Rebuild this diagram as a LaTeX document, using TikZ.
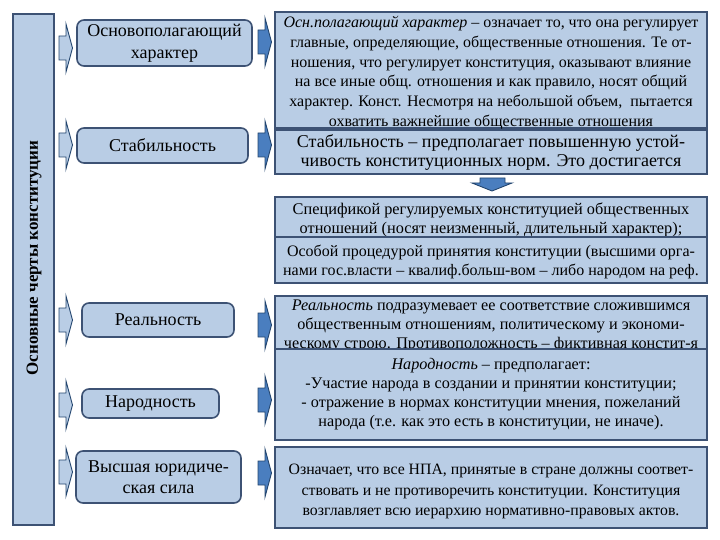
\documentclass[tikz,border=0pt]{standalone}
\usepackage{fontspec}
\setmainfont{Liberation Serif}
\definecolor{boxfill}{HTML}{B9CDE5}
\definecolor{boxline}{HTML}{3D5274}
\definecolor{arrdark}{HTML}{4A7EBF}
\definecolor{arrline}{HTML}{24466F}
\definecolor{arrlight}{HTML}{B9CDE5}
\begin{document}
\begin{tikzpicture}[x=1pt,y=-1pt,
  lbox/.style={draw=boxline, line width=1.6pt, fill=boxfill, rounded corners=7pt, inner sep=0pt},
  rbox/.style={draw=boxline, line width=1.6pt, fill=boxfill, inner sep=0pt},
  txt/.style={align=center, inner sep=0pt},
  ltext/.style={txt, font=\fontsize{18}{22}\selectfont},
  larrow/.style={fill=arrlight, draw=arrline, line width=0.9pt},
  rarrow/.style={fill=arrdark, draw=arrline, line width=0.9pt},
  blockarr/.pic={\path[pic actions] (-7,-12) -- (0,-12) -- (0,-24) -- (6.5,0) -- (0,24) -- (0,12) -- (-7,12) -- cycle;}
]
\useasboundingbox (0,0) rectangle (720,540);

% title bar
\node[rbox, minimum width=41pt, minimum height=511pt] (bar) at (33.5,269.5) {};
\node[txt, rotate=90, font=\fontsize{17}{20}\selectfont\bfseries] (bart) at (34,258) {Основные черты конституции};

% left boxes
\node[lbox, minimum width=175pt, minimum height=46pt] (l1) at (164.5,43) {};
\node[ltext] (l1t) at (l1.center) {Основополагающий\\характер};
\node[lbox, minimum width=171pt, minimum height=35pt] (l2) at (162.5,145.5) {};
\node[ltext] (l2t) at (l2.center) {Стабильность};
\node[lbox, minimum width=152pt, minimum height=34pt] (l3) at (158,320) {};
\node[ltext] (l3t) at (l3.center) {Реальность};
\node[lbox, minimum width=137pt, minimum height=29pt] (l4) at (150.5,403.5) {};
\node[ltext] (l4t) at (l4.center) {Народность};
\node[lbox, minimum width=165pt, minimum height=52pt] (l5) at (158.5,477) {};
\node[txt, font=\fontsize{18}{20.5}\selectfont] (l5t) at (l5.center) {Высшая юридиче-\\ская сила};

% left arrows
\pic[larrow] at (66,48) {blockarr};
\pic[larrow] at (66,145) {blockarr};
\pic[larrow] at (66,320) {blockarr};
\pic[larrow] at (66,405) {blockarr};
\pic[larrow] at (66,472) {blockarr};

% right arrows
\pic[rarrow] at (265,42) {blockarr};
\pic[rarrow] at (265,145) {blockarr};
\pic[rarrow] at (265,325) {blockarr};
\pic[rarrow] at (265,400) {blockarr};
\pic[rarrow] at (265,473) {blockarr};

% right boxes
\node[rbox, minimum width=432pt, minimum height=116pt] (r1) at (491,70) {};
\node[txt, font=\fontsize{16}{19.8}\selectfont] (r1t) at (491,73) {\textit{Осн.полагающий характер} – означает то, что она регулирует\\
главные, определяющие, общественные отношения. Те от-\\
ношения, что регулирует конституция, оказывают влияние\\
на все иные общ. отношения и как правило, носят общий\\
характер. Конст. Несмотря на небольшой объем,~ пытается\\
охватить важнейшие общественные отношения};

\node[rbox, minimum width=432pt, minimum height=44pt] (r2) at (491,152) {};
\node[txt, font=\fontsize{18}{19}\selectfont] (r2t) at (491,153) {Стабильность – предполагает повышенную устой-\\
чивость конституционных норм. Это достигается};

\path[rarrow] (480,178) -- (505,178) -- (505,183) -- (512,183) -- (492,191) -- (472,183) -- (480,183) -- cycle;

\node[rbox, minimum width=432pt, minimum height=40pt] (r3) at (491,217) {};
\node[txt, font=\fontsize{16.3}{18.5}\selectfont] (r3t) at (491,220) {Спецификой регулируемых конституцией общественных\\
отношений (носят неизменный, длительный характер);};
\node[rbox, minimum width=432pt, minimum height=46pt] (r4) at (491,260) {};
\node[txt, font=\fontsize{16}{19}\selectfont] (r4t) at (491,262) {Особой процедурой принятия конституции (высшими орга-\\
нами гос.власти – квалиф.больш-вом – либо народом на реф.};

\node[rbox, minimum width=432pt, minimum height=53pt] (r5) at (491,322.5) {};
\node[txt, font=\fontsize{16.2}{19}\selectfont] (r5t) at (491,326) {\textit{Реальность} подразумевает ее соответствие сложившимся\\
общественным отношениям, политическому и экономи-\\
ческому строю. Противоположность – фиктивная констит-я};
\node[rbox, minimum width=432pt, minimum height=91pt] (r6) at (491,394.5) {};
\node[txt, font=\fontsize{16.2}{19}\selectfont] (r6t) at (491,394) {\textit{Народность} – предполагает:\\
-Участие народа в создании и принятии конституции;\\
- отражение в нормах конституции мнения, пожеланий\\
народа (т.е. как это есть в конституции, не иначе).};

\node[rbox, minimum width=432pt, minimum height=81pt] (r7) at (491,487.5) {};
\node[txt, font=\fontsize{15.8}{20.5}\selectfont] (r7t) at (491,491.5) {Означает, что все НПА, принятые в стране должны соответ-\\
ствовать и не противоречить конституции. Конституция\\
возглавляет всю иерархию нормативно-правовых актов.};
\end{tikzpicture}
\end{document}
